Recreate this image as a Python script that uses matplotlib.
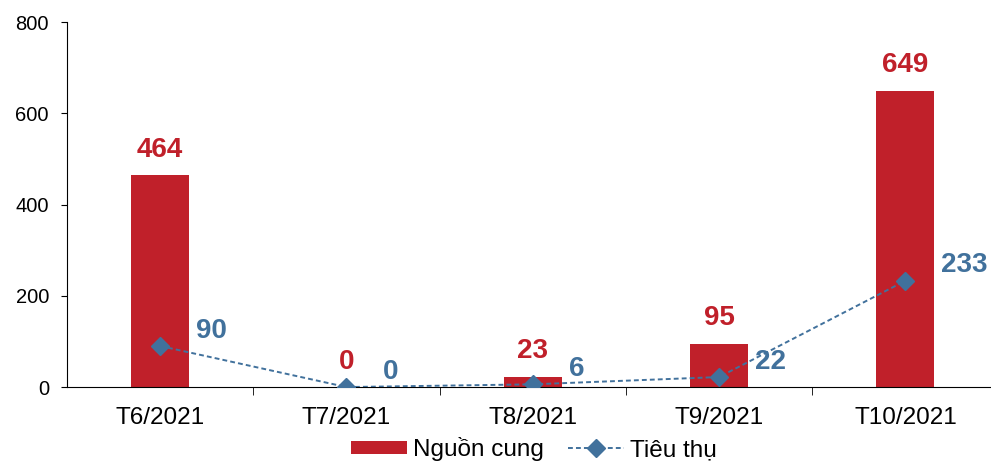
import matplotlib.pyplot as plt
import numpy as np

plt.rcParams['font.family'] = ['Liberation Sans', 'DejaVu Sans']

# số liệu theo tháng
thang = ['T6/2021', 'T7/2021', 'T8/2021', 'T9/2021', 'T10/2021']
nguon_cung = [464, 0, 23, 95, 649]
tieu_thu = [90, 0, 6, 22, 233]

do = '#C0202A'
xanh = '#41719C'

fig = plt.figure(figsize=(9.91, 4.63), dpi=100)
ax = fig.add_axes([0.0676, 0.164, 0.94, 0.7883])

x = np.arange(len(thang))
cot = ax.bar(x, nguon_cung, width=0.31, color=do, label='Nguồn cung', zorder=2)
duong, = ax.plot(x, tieu_thu, color=xanh, linestyle='--', linewidth=1.4, dashes=(2.5, 1.6),
                 marker='D', markersize=9.5, label='Tiêu thụ', zorder=3)

for xi, v in zip(x, nguon_cung):
    ax.annotate(str(v), (xi, v), xytext=(0, 9), textcoords='offset points',
                ha='center', va='bottom', color=do, fontsize=20, fontweight='bold')
for xi, v in zip(x, tieu_thu):
    ax.annotate(str(v), (xi, v), xytext=(26, 11), textcoords='offset points',
                ha='left', va='center', color=xanh, fontsize=20, fontweight='bold')

ax.set_xlim(-0.5, 4.5)
ax.set_ylim(0, 800)
ax.set_yticks([0, 200, 400, 600, 800])
ax.set_xticks(x)
ax.set_xticklabels(thang)
ax.set_xticks(np.arange(0.5, 4.5, 1), minor=True)
ax.tick_params(axis='x', which='major', length=0, labelsize=17.5, pad=14)
ax.tick_params(axis='x', which='minor', length=6, direction='out')
ax.tick_params(axis='y', length=4, direction='out', labelsize=14.5, pad=9)

for s in ['top', 'right']:
    ax.spines[s].set_visible(False)

fig.legend(handles=[cot, duong], loc='center', bbox_to_anchor=(0.539, 0.03), ncol=2,
           frameon=False, fontsize=17.5, handlelength=2.3, handleheight=0.5,
           columnspacing=1.0, handletextpad=0.25)

fig.savefig('out.png', dpi=100)
